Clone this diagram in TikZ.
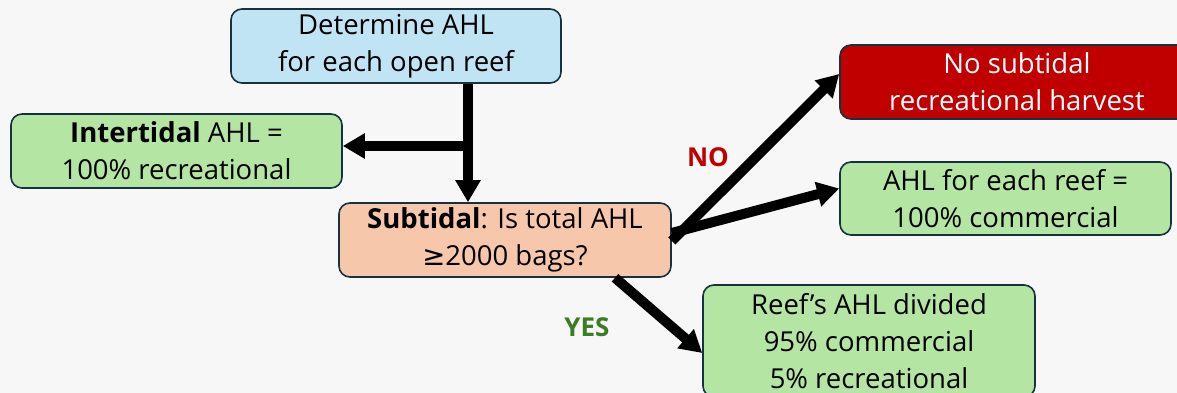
\documentclass[tikz,border=0pt]{standalone}
\usepackage{fontspec}
\setmainfont{Open Sans}
\usetikzlibrary{arrows.meta}
\definecolor{bg}{HTML}{F7F7F7}
\definecolor{bluefill}{HTML}{C1E4F5}
\definecolor{greenfill}{HTML}{B4E5A2}
\definecolor{salmon}{HTML}{F7C7AC}
\definecolor{redfill}{HTML}{C00000}
\definecolor{edge}{HTML}{17323F}
\definecolor{nored}{HTML}{C00000}
\definecolor{yesgreen}{HTML}{3B7D23}
\tikzset{
  box/.style={draw=edge, line width=1.6pt, rounded corners=11pt, align=center,
    inner sep=0pt, font=\fontsize{27.5}{37}\selectfont, text=black},
  arr/.style={line width=10pt, -{Triangle[length=22pt,width=24pt]}},
  lbl/.style={font=\fontsize{26}{28}\selectfont\bfseries}
}
\begin{document}
\begin{tikzpicture}[x=1pt,y=-1pt]
\useasboundingbox (0,0) rectangle (1177,393);
\clip (0,0) rectangle (1177,393);
\fill[bg] (0,0) rectangle (1177,393);
\node[box, fill=bluefill, minimum width=330pt, minimum height=74pt] (blue) at (396,46)
  {Determine AHL\\for each open reef};
\node[box, fill=greenfill, minimum width=331pt, minimum height=74pt] (inter) at (176.5,151)
  {\textbf{Intertidal} AHL =\\100\% recreational};
\node[box, fill=salmon, minimum width=332pt, minimum height=74pt] (sub) at (505,240)
  {\textbf{Subtidal}: Is total AHL\\{\fontspec{DejaVu Sans}≥}2000 bags?};
\node[box, fill=redfill, text=white, minimum width=354pt, minimum height=74pt] (red) at (1017,82)
  {No subtidal\\recreational harvest};
\node[box, fill=greenfill, minimum width=331pt, minimum height=73pt] (comm) at (1005.5,198.5)
  {AHL for each reef =\\100\% commercial};
\node[box, fill=greenfill, minimum width=332pt, minimum height=112pt] (div) at (869,341)
  {Reef’s AHL divided\\95\% commercial\\5\% recreational};
\node[lbl, text=nored] (no) at (708,157) {NO};
\node[lbl, text=yesgreen] (yes) at (587,327) {YES};
\coordinate (br) at (468,146);
\draw[arr] (blue.south -| br) -- (sub.north -| br);
\draw[arr] (br) -- (inter.east |- br);
\draw[arr] ([yshift=-1pt]sub.east) -- ([yshift=8pt]red.west);
\draw[arr] ([yshift=7pt]sub.east) -- ([yshift=10pt]comm.west);
\draw[arr] (sub.south -| 615,0) -- (div.west |- 0,353);
\end{tikzpicture}
\end{document}
